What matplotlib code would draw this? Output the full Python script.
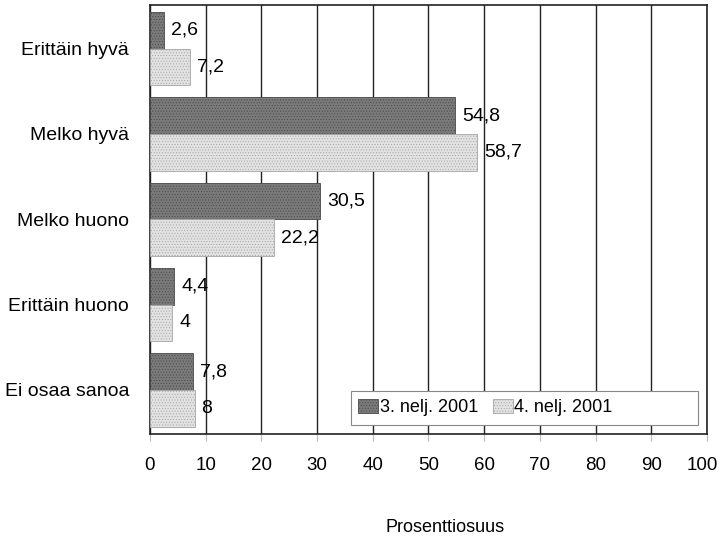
import numpy as np
import matplotlib as mpl
mpl.use("Agg")
import matplotlib.pyplot as plt
import matplotlib.transforms as mtransforms
from matplotlib.patches import Rectangle

# data
categories = ["Erittäin hyvä", "Melko hyvä", "Melko huono", "Erittäin huono", "Ei osaa sanoa"]
q3_2001 = [2.6, 54.8, 30.5, 4.4, 7.8]
q4_2001 = [7.2, 58.7, 22.2, 4.0, 8.0]
series_names = ["3. nelj. 2001", "4. nelj. 2001"]
xticks = list(range(0, 101, 10))

plt.rcParams["font.family"] = ["Liberation Sans", "DejaVu Sans"]
plt.rcParams["hatch.linewidth"] = 0.4

fig = plt.figure(figsize=(7.21, 5.41), dpi=100)
ax = fig.add_axes([0.208, 0.198, 0.7726, 0.7928])

y = np.arange(len(categories))
h = 0.43

bars1 = ax.barh(y - h / 2, q3_2001, height=h, color="#7a7a7a", edgecolor="#4a4a4a",
                linewidth=0.6, hatch="......", label=series_names[0], zorder=3)
bars2 = ax.barh(y + h / 2, q4_2001, height=h, color="#e2e2e2", edgecolor="#a5a5a5",
                linewidth=0.6, hatch="......", label=series_names[1], zorder=3)


def fmt(v):
    s = f"{v:.1f}".replace(".", ",")
    return s[:-2] if s.endswith(",0") else s


for bars, vals in ((bars1, q3_2001), (bars2, q4_2001)):
    for b, v in zip(bars, vals):
        ax.annotate(fmt(v), (v, b.get_y() + b.get_height() / 2), xytext=(5, 0),
                    textcoords="offset points", ha="left", va="center",
                    fontsize=14, zorder=4)

ax.set_xlim(0, 100)
ax.set_ylim(len(categories) - 1 + 0.515, -0.51)
ax.set_xticks(xticks)
ax.set_yticks(y)
ax.set_yticklabels(categories, fontsize=14)
ax.tick_params(axis="y", length=0, pad=15)
ax.tick_params(axis="x", labelsize=13.5, length=5, color="#bbbbbb", pad=12)
ax.xaxis.grid(True, color="#222222", linewidth=1.0, zorder=0)
for s in ax.spines.values():
    s.set_color("#222222")
    s.set_linewidth(1.2)

# keep "100" inside the canvas
last = ax.get_xticklabels()[-1]
last.set_transform(last.get_transform() + mtransforms.ScaledTranslation(-0.05, 0, fig.dpi_scale_trans))

ax.set_xlabel("Prosenttiosuus", fontsize=13, va="center")
ax.xaxis.set_label_coords(0.53, -0.219)

# legend box is wider than its entries in the original
ax.add_patch(Rectangle((0.361, 0.021), 0.623, 0.079, transform=ax.transAxes,
                       facecolor="white", edgecolor="#888888", linewidth=0.8, zorder=5))
leg = ax.legend(loc="center left", bbox_to_anchor=(0.361, 0.0605), borderaxespad=0,
                ncol=2, fontsize=13, frameon=False, handlelength=1.1, handleheight=0.78,
                handletextpad=0.1, columnspacing=0.8, borderpad=0.4)
leg.set_zorder(6)

plt.savefig("out.png", dpi=100)
